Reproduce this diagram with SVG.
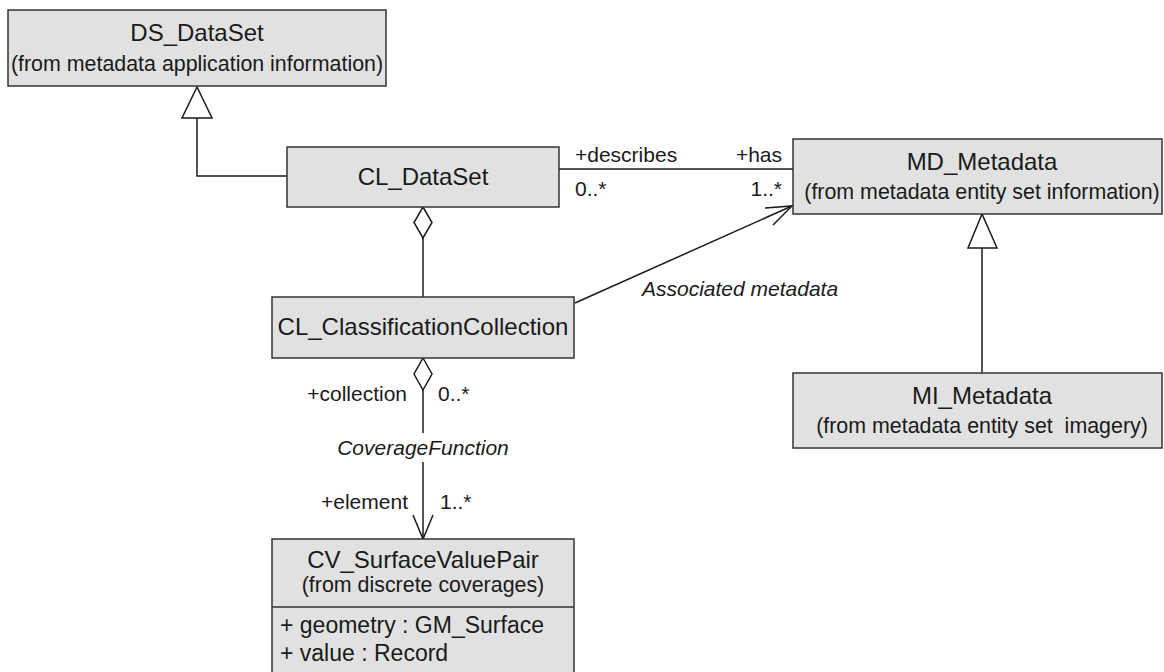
<svg xmlns="http://www.w3.org/2000/svg" width="1164" height="672" viewBox="0 0 1164 672">
<style>
.box{fill:#e1e1e1;stroke:#333;stroke-width:1.5}
.t{font-family:"Liberation Sans",Arial,sans-serif;font-size:24px;fill:#1a1a1a;text-anchor:middle}
.s{font-family:"Liberation Sans",Arial,sans-serif;font-size:21.4px;fill:#1a1a1a;text-anchor:middle;white-space:pre}
.a{font-family:"Liberation Sans",Arial,sans-serif;font-size:23px;fill:#1a1a1a}
.l{font-family:"Liberation Sans",Arial,sans-serif;font-size:21px;fill:#1a1a1a}
.i{font-style:italic}
.e{text-anchor:end}
.m{text-anchor:middle}
.ln{fill:none;stroke:#1a1a1a;stroke-width:1.5}
.hd{fill:#fff;stroke:#1a1a1a;stroke-width:1.5}
</style>
<rect width="1164" height="672" fill="#fff"/>
<g id="connectors">
  <polyline class="ln" points="287,176 197,176 197,118"/>
  <polygon class="hd" points="197,87 182,118 212,118"/>
  <line class="ln" x1="559" y1="169" x2="793" y2="169"/>
  <line class="ln" x1="423" y1="238" x2="423" y2="297"/>
  <polygon class="hd" points="423,207 432,222.5 423,238 414,222.5"/>
  <line class="ln" x1="575" y1="303" x2="792" y2="206"/>
  <polyline class="ln" points="765,208 792,206 773,225"/>
  <line class="ln" x1="982" y1="248" x2="982" y2="373"/>
  <polygon class="hd" points="982,214 968,248 997,248"/>
  <line class="ln" x1="423" y1="390" x2="423" y2="433"/>
  <line class="ln" x1="423" y1="462" x2="423" y2="539"/>
  <polygon class="hd" points="423,358 432,374 423,390 414,374"/>
  <polyline class="ln" points="413,515 423,539 433,515"/>
  <text class="l" x="575" y="162">+describes</text>
  <text class="l" x="575" y="196">0..*</text>
  <text class="l e" x="782" y="162">+has</text>
  <text class="l e" x="782" y="196">1..*</text>
  <text class="l i" x="642" y="296">Associated metadata</text>
  <text class="l e" x="407" y="401">+collection</text>
  <text class="l" x="438" y="401">0..*</text>
  <text class="l i m" x="423" y="455">CoverageFunction</text>
  <text class="l e" x="408" y="509">+element</text>
  <text class="l" x="440" y="509">1..*</text>
</g>
<g id="DS_DataSet">
  <rect class="box" x="8" y="10" width="378" height="76"/>
  <text class="t" x="197" y="41">DS_DataSet</text>
  <text class="s" x="197" y="71">(from metadata application information)</text>
</g>
<g id="CL_DataSet">
  <rect class="box" x="287" y="147" width="272" height="60"/>
  <text class="t" x="423" y="185">CL_DataSet</text>
</g>
<g id="MD_Metadata">
  <rect class="box" x="793" y="139" width="369" height="75"/>
  <text class="t" x="982" y="170">MD_Metadata</text>
  <text class="s" x="982" y="199">(from metadata entity set information)</text>
</g>
<g id="CL_ClassificationCollection">
  <rect class="box" x="272" y="297" width="302" height="61"/>
  <text class="t" x="423" y="335">CL_ClassificationCollection</text>
</g>
<g id="MI_Metadata">
  <rect class="box" x="793" y="373" width="369" height="75"/>
  <text class="t" x="982" y="404">MI_Metadata</text>
  <text class="s" x="982" y="433" xml:space="preserve">(from metadata entity set  imagery)</text>
</g>
<g id="CV_SurfaceValuePair">
  <rect class="box" x="272" y="539" width="302" height="140"/>
  <line class="ln" x1="272" y1="607" x2="574" y2="607" style="stroke:#333"/>
  <text class="t" x="423" y="568">CV_SurfaceValuePair</text>
  <text class="s" x="423" y="592">(from discrete coverages)</text>
  <text class="a" x="280" y="633">+ geometry : GM_Surface</text>
  <text class="a" x="280" y="661">+ value : Record</text>
</g>
</svg>
